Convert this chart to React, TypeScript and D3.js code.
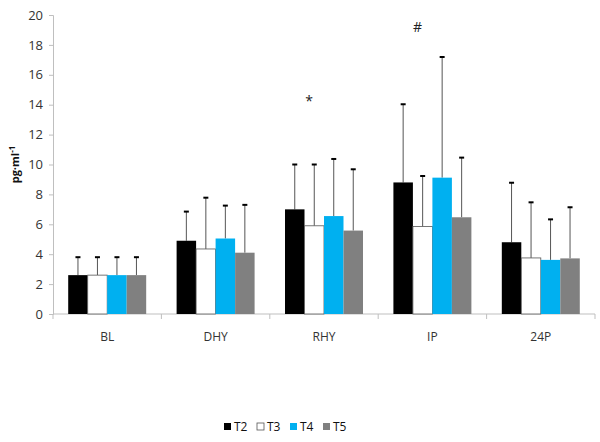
import { useEffect, useRef } from "react";
import * as d3 from "d3";

const categories = ["BL", "DHY", "RHY", "IP", "24P"];
const seriesNames = ["T2", "T3", "T4", "T5"];
const seriesColors = ["#000000", "#ffffff", "#00b0f0", "#808080"];
// mean values per series, in category order
const T2 = [2.6, 4.9, 7.0, 8.8, 4.8];
const T3 = [2.6, 4.35, 5.9, 5.85, 3.75];
const T4 = [2.6, 5.05, 6.55, 9.12, 3.62];
const T5 = [2.6, 4.1, 5.58, 6.47, 3.72];
// upper end of the error bars
const T2err = [3.8, 6.85, 10.0, 14.03, 8.78];
const T3err = [3.8, 7.78, 10.0, 9.23, 7.47];
const T4err = [3.8, 7.25, 10.37, 17.19, 6.33];
const T5err = [3.8, 7.3, 9.68, 10.46, 7.14];
const yTicks = [0, 2, 4, 6, 8, 10, 12, 14, 16, 18, 20];
const marks = [
  { category: "RHY", value: 13.9, text: "*" },
  { category: "IP", value: 18.85, text: "#" },
];

const W = 600;
const H = 442;

const App = () => {
  const ref = useRef<SVGSVGElement>(null);

  useEffect(() => {
    const svg = d3.select(ref.current);
    svg.selectAll("*").remove();
    const font = "'Open Sans', 'Liberation Sans', sans-serif";

    const left = 53;
    const right = 595;
    const top = 15;
    const bottom = 314;

    const x = d3.scaleBand().domain(categories).range([left, right]).paddingInner(0).paddingOuter(0);
    const inner = d3
      .scaleBand()
      .domain(seriesNames)
      .range([0, x.bandwidth()])
      .paddingOuter(0.78)
      .paddingInner(0);
    const y = d3.scaleLinear().domain([0, 20]).range([bottom, top]);

    const values = [T2, T3, T4, T5];
    const errs = [T2err, T3err, T4err, T5err];

    // y axis
    const yAxis = svg.append("g").attr("transform", `translate(${left},0)`).call(
      d3.axisLeft(y).tickValues(yTicks).tickSize(4).tickPadding(6)
    );
    yAxis.select(".domain").attr("stroke", "#bfbfbf");
    yAxis.selectAll(".tick line").attr("stroke", "#bfbfbf");
    yAxis
      .selectAll(".tick text")
      .attr("fill", "#333")
      .attr("font-size", 13)
      .attr("font-family", font);

    // x axis
    const xAxis = svg.append("g").attr("transform", `translate(0,${bottom})`);
    xAxis
      .append("line")
      .attr("x1", left)
      .attr("x2", right)
      .attr("stroke", "#bfbfbf");
    const bounds = categories.map((c) => x(c)!).concat([right]);
    xAxis
      .selectAll("line.tk")
      .data(bounds)
      .join("line")
      .attr("class", "tk")
      .attr("x1", (d) => d)
      .attr("x2", (d) => d)
      .attr("y1", 0)
      .attr("y2", 5)
      .attr("stroke", "#bfbfbf");
    xAxis
      .selectAll("text")
      .data(categories)
      .join("text")
      .attr("x", (d) => x(d)! + x.bandwidth() / 2)
      .attr("y", 27)
      .attr("text-anchor", "middle")
      .attr("fill", "#333")
      .attr("font-size", 12)
      .attr("font-family", font)
      .text((d) => d);

    // bars
    seriesNames.forEach((s, si) => {
      const g = svg.append("g");
      categories.forEach((c, ci) => {
        const bx = x(c)! + inner(s)!;
        const bw = inner.bandwidth();
        const v = values[si][ci];
        const e = errs[si][ci];
        const cx = bx + bw / 2;
        g.append("line")
          .attr("x1", cx)
          .attr("x2", cx)
          .attr("y1", y(v))
          .attr("y2", y(e))
          .attr("stroke", "#555")
          .attr("stroke-width", 1);
        g.append("line")
          .attr("x1", cx - 2.5)
          .attr("x2", cx + 2.5)
          .attr("y1", y(e))
          .attr("y2", y(e))
          .attr("stroke", "#000")
          .attr("stroke-width", 2);
        g.append("rect")
          .attr("x", bx)
          .attr("y", y(v))
          .attr("width", bw)
          .attr("height", y(0) - y(v))
          .attr("fill", seriesColors[si])
          .attr("stroke", si === 1 ? "#555" : "none")
          .attr("stroke-width", 0.8);
      });
    });

    // significance marks
    svg
      .append("g")
      .selectAll("text")
      .data(marks)
      .join("text")
      .attr("x", (d) => x(d.category)! + x.bandwidth() / 2 - 15)
      .attr("y", (d) => y(d.value))
      .attr("text-anchor", "middle")
      .attr("font-size", 14)
      .attr("font-family", font)
      .attr("fill", "#222")
      .text((d) => d.text);

    // y label
    const yl = svg
      .append("text")
      .attr("transform", `translate(19,${(top + bottom) / 2}) rotate(-90)`)
      .attr("text-anchor", "middle")
      .attr("font-size", 11)
      .attr("font-weight", "bold")
      .attr("font-family", font)
      .attr("fill", "#111");
    yl.append("tspan").text("pg·ml");
    yl.append("tspan").attr("dy", -4).attr("font-size", 8).text("-1");

    // legend
    const legendX = d3.scalePoint().domain(seriesNames).range([224, 323]);
    const lg = svg.append("g");
    seriesNames.forEach((s, si) => {
      const lx = legendX(s)!;
      lg.append("rect")
        .attr("x", lx)
        .attr("y", 423)
        .attr("width", 7)
        .attr("height", 7)
        .attr("fill", seriesColors[si])
        .attr("stroke", si === 1 ? "#555" : "none")
        .attr("stroke-width", 0.8);
      lg.append("text")
        .attr("x", lx + 10)
        .attr("y", 431)
        .attr("font-size", 12)
        .attr("font-family", font)
        .attr("fill", "#111")
        .text(s);
    });
  }, []);

  return <svg ref={ref} width={W} height={H} style={{ display: "block", position: "absolute", left: 0, top: 0, background: "#fff" }} />;
};

export default App;
